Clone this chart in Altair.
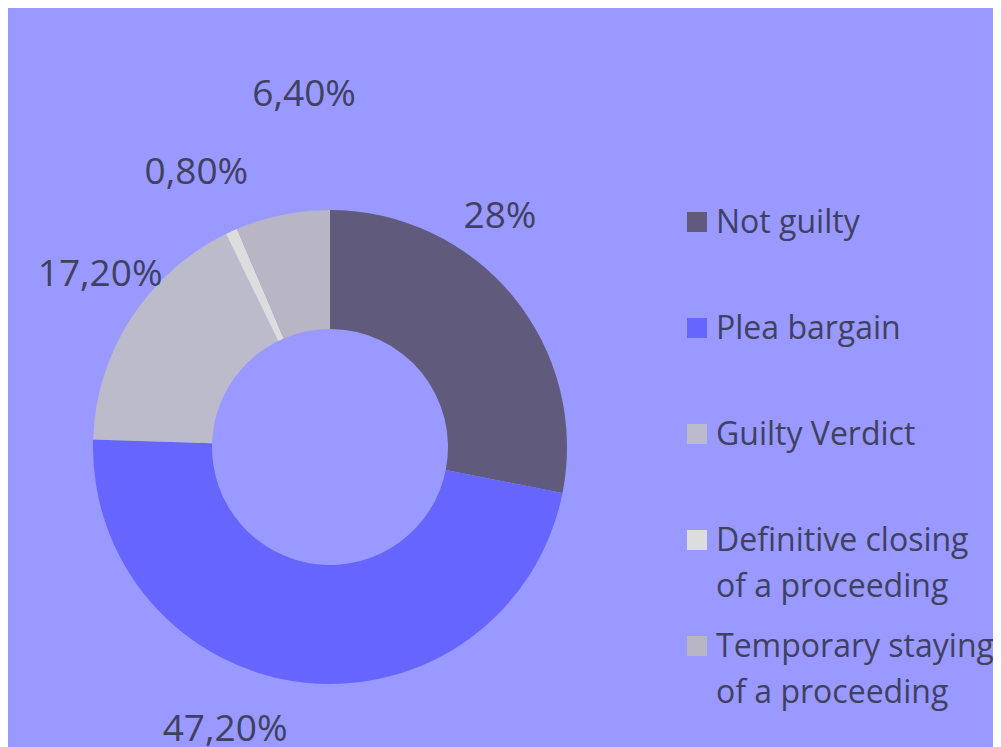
import altair as alt
import pandas as pd

categories = [
    "Not guilty",
    "Plea bargain",
    "Guilty Verdict",
    "Definitive closing of a proceeding",
    "Temporary staying of a proceeding",
]
shares = [28.0, 47.2, 17.2, 0.8, 6.4]
share_labels = ["28%", "47,20%", "17,20%", "0,80%", "6,40%"]
colors = ["#605A7C", "#6666FF", "#BBBBCC", "#DDDDDD", "#B8B5C4"]

# label placement styling: distance from centre (px) and angular nudge (rad)
label_radius = [288, 299, 289, 308, 356]
label_nudge = [-0.252, 0.245, 0.077, -0.020, 0.129]

BG = "#9999FF"
TXT = "#404060"
FONT = "Open Sans"

df = pd.DataFrame({
    "category": categories,
    "share": shares,
    "label": share_labels,
    "order": list(range(len(categories))),
})
total = sum(shares)
theta_scale = alt.Scale(domain=[0, total])

base = alt.Chart(df).transform_window(
    cum="sum(share)", sort=[alt.SortField("order")], frame=[None, 0]
).transform_calculate(
    start="datum.cum - datum.share",
    mid="datum.cum - datum.share / 2",
)

label_expr = (
    "indexof(datum.label, ' of a') > 0 ? "
    "[substring(datum.label, 0, indexof(datum.label, ' of a')), "
    "substring(datum.label, indexof(datum.label, ' of a') + 1)] : "
    "[datum.label, '']"
)

legend = alt.Legend(
    title=None,
    orient="none",
    legendX=673,
    legendY=53,
    padding=0,
    symbolType="M-1,-2.1H1V-0.1H-1Z",
    symbolSize=400,
    symbolStrokeWidth=0,
    labelFont=FONT,
    labelFontSize=32,
    labelColor=TXT,
    labelLimit=400,
    labelOffset=3,
    labelBaseline="alphabetic",
    labelExpr=label_expr,
    rowPadding=28,
)

arcs = base.mark_arc(innerRadius=118, outerRadius=237).encode(
    theta=alt.Theta("start:Q", scale=theta_scale),
    theta2="cum:Q",
    color=alt.Color(
        "category:N",
        scale=alt.Scale(domain=categories, range=colors),
        legend=legend,
    ),
)

texts = []
for cat, r, nudge in zip(categories, label_radius, label_nudge):
    texts.append(
        base.transform_filter(alt.datum.category == cat)
        .mark_text(
            radius=r,
            thetaOffset=nudge,
            font=FONT,
            fontSize=37,
            color=TXT,
            align="center",
            baseline="middle",
            dy=3,
        )
        .encode(theta=alt.Theta("mid:Q", scale=theta_scale), text="label:N")
    )

chart = (
    alt.layer(arcs, *texts)
    .properties(
        width=644,
        height=566,
        autosize="none",
        padding={"left": 0, "top": 156, "right": 341, "bottom": 17},
        background=BG,
    )
    .configure_view(stroke=None)
    .configure(style={"guide-label": {"lineHeight": 46}})
)

chart.save("out.html", embed_options={"renderer": "svg", "actions": False})
